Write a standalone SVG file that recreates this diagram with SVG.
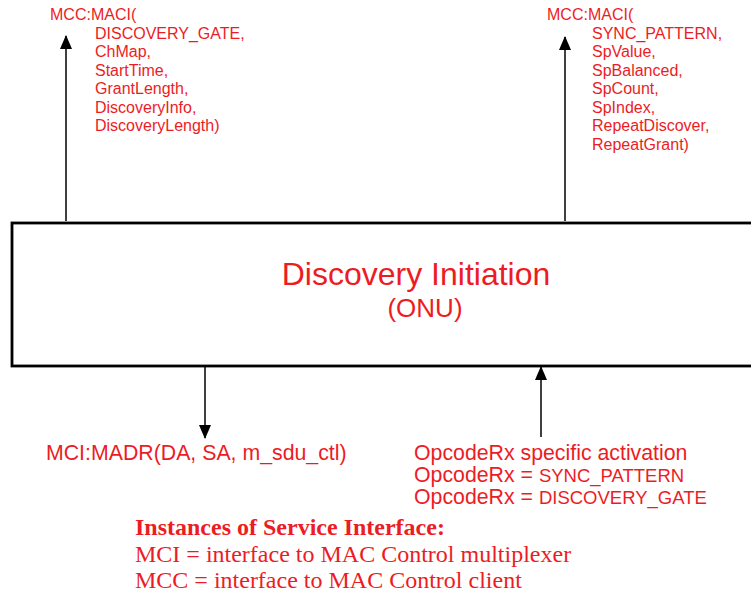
<svg xmlns="http://www.w3.org/2000/svg" width="751" height="596" viewBox="0 0 751 596">
<style>
.lbl{font-family:"Liberation Sans",Arial,sans-serif;fill:#ED1C24}
.s15{font-size:16px}
.s21{font-size:21.3px}
.ser{font-family:"Liberation Serif","Times New Roman",serif;fill:#ED1C24;font-size:24px}
.conn{stroke:#000;stroke-width:1.5;fill:none}
</style>
<defs>
<marker id="ah" viewBox="0 0 14 12" refX="13" refY="6" markerWidth="14" markerHeight="12" markerUnits="userSpaceOnUse" orient="auto">
<path d="M0,0 L14,6 L0,12 Z" fill="#000"/>
</marker>
</defs>
<rect width="751" height="596" fill="#fff"/>
<g id="connectors">
<line class="conn" x1="66" y1="221" x2="66" y2="36" marker-end="url(#ah)"/>
<line class="conn" x1="565" y1="221" x2="565" y2="37" marker-end="url(#ah)"/>
<line class="conn" x1="205" y1="367" x2="205" y2="438" marker-end="url(#ah)"/>
<line class="conn" x1="541" y1="437" x2="541" y2="367" marker-end="url(#ah)"/>
</g>
<g id="discovery-initiation">
<rect x="12" y="223" width="745" height="143" fill="#fff" stroke="#000" stroke-width="2.8"/>
<text class="lbl" x="416" y="285" font-size="32" text-anchor="middle">Discovery Initiation</text>
<text class="lbl" x="425" y="317" font-size="26" text-anchor="middle">(ONU)</text>
</g>
<g id="mcc-maci-discovery-gate">
<text class="lbl s15" x="50" y="20">MCC:MACI(</text>
<text class="lbl s15" x="95" y="38.5">DISCOVERY_GATE,</text>
<text class="lbl s15" x="95" y="57">ChMap,</text>
<text class="lbl s15" x="95" y="75.5">StartTime,</text>
<text class="lbl s15" x="95" y="94">GrantLength,</text>
<text class="lbl s15" x="95" y="112.5">DiscoveryInfo,</text>
<text class="lbl s15" x="95" y="131">DiscoveryLength)</text>
</g>
<g id="mcc-maci-sync-pattern">
<text class="lbl s15" x="547" y="20">MCC:MACI(</text>
<text class="lbl s15" x="592" y="38.5">SYNC_PATTERN,</text>
<text class="lbl s15" x="592" y="57">SpValue,</text>
<text class="lbl s15" x="592" y="75.5">SpBalanced,</text>
<text class="lbl s15" x="592" y="94">SpCount,</text>
<text class="lbl s15" x="592" y="112.5">SpIndex,</text>
<text class="lbl s15" x="592" y="131">RepeatDiscover,</text>
<text class="lbl s15" x="592" y="149.5">RepeatGrant)</text>
</g>
<g id="mci-madr">
<text class="lbl s21" x="46" y="460">MCI:MADR(DA, SA, m_sdu_ctl)</text>
</g>
<g id="opcoderx">
<text class="lbl s21"><tspan x="414" y="460">OpcodeRx specific activation</tspan><tspan x="414" y="482">OpcodeRx = </tspan><tspan font-size="18.5">SYNC_PATTERN</tspan><tspan x="414" y="503.5">OpcodeRx = </tspan><tspan font-size="18.5">DISCOVERY_GATE</tspan></text>
</g>
<g id="legend">
<text class="ser" x="135" y="535" font-weight="bold">Instances of Service Interface:</text>
<text class="ser" x="135" y="562">MCI = interface to MAC Control multiplexer</text>
<text class="ser" x="135" y="588">MCC = interface to MAC Control client</text>
</g>
</svg>
